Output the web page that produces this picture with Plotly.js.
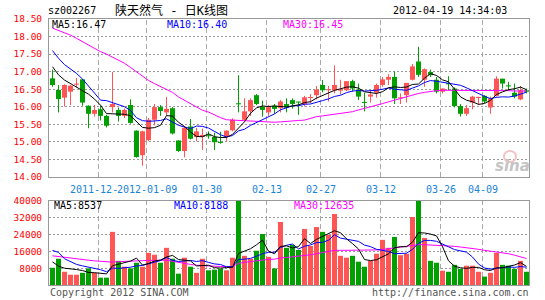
<!DOCTYPE html>
<html><head><meta charset="utf-8">
<script src="https://cdn.plot.ly/plotly-3.0.1.min.js"></script>
<style>html,body{margin:0;padding:0;background:#fff;}#chart{width:545px;height:300px;}</style>
</head><body><div id="chart"></div>
<script>
// ---- data ----
const openP  = [16.81,16.48,16.26,16.43,16.63,16.78,16.03,15.80,15.93,15.74,15.99,15.91,15.74,16.05,15.32,14.62,15.05,15.63,15.99,15.84,
                15.96,15.04,14.74,15.44,15.14,15.14,15.17,15.14,15.00,15.14,15.33,16.09,15.63,15.87,16.33,16.00,15.84,16.03,15.96,16.08,
                16.19,16.13,16.08,16.25,16.33,16.62,16.47,16.47,16.46,16.47,16.73,16.49,16.12,16.29,16.40,16.62,16.77,16.85,16.24,16.33,
                16.77,17.29,16.77,16.99,16.77,16.43,16.65,16.52,16.02,15.80,16.12,16.25,16.31,15.98,16.31,16.80,16.59,16.40,16.21,16.47];
const highP  = [17.06,16.62,16.64,16.62,16.82,16.80,16.04,16.05,16.03,15.77,16.99,15.98,15.95,16.21,15.33,15.32,15.68,16.08,16.05,16.28,
                15.99,15.05,15.44,15.65,15.40,15.38,15.30,15.26,15.29,15.33,15.67,16.90,16.24,16.24,16.36,16.17,16.05,16.08,16.19,16.24,
                16.24,16.14,16.31,16.36,16.59,16.76,16.59,17.18,16.77,16.73,16.77,16.66,16.40,16.47,16.66,16.85,16.93,17.01,16.38,16.68,
                17.22,17.71,17.09,17.06,16.85,16.52,16.87,16.55,16.08,16.05,16.31,16.29,16.33,16.29,16.87,16.80,16.71,16.66,16.59,16.52];
const lowP   = [16.57,15.84,16.01,16.05,16.55,16.03,15.39,15.72,15.61,15.41,15.84,15.58,15.68,15.52,14.55,14.32,15.02,15.47,15.74,15.74,
                15.21,14.71,14.56,15.07,15.02,14.77,15.09,14.77,14.95,15.02,15.30,15.84,15.61,15.74,16.05,15.72,15.74,15.80,15.84,15.84,
                15.95,15.77,16.01,16.10,16.21,16.41,16.15,16.38,16.35,16.45,16.43,16.19,15.87,16.12,16.26,16.57,16.62,16.08,16.08,16.12,
                16.75,16.85,16.57,16.85,16.38,16.38,16.47,15.98,15.72,15.74,15.93,16.05,16.10,15.80,16.29,16.52,16.46,16.24,16.19,16.38];
const closeP = [16.62,16.22,16.62,16.60,16.66,16.12,15.80,15.91,15.74,15.46,16.08,15.74,15.91,15.54,14.57,15.30,15.63,15.99,15.88,15.94,
                15.24,14.74,15.40,15.09,15.30,15.20,15.16,14.99,14.97,15.32,15.63,16.07,15.87,16.19,16.08,15.91,15.99,15.94,16.15,15.98,
                16.08,16.12,16.27,16.27,16.49,16.47,16.49,16.62,16.49,16.73,16.52,16.29,16.11,16.35,16.62,16.78,16.85,16.24,16.26,16.68,
                17.15,16.91,17.07,16.90,16.43,16.52,16.64,16.02,15.80,15.96,16.29,16.27,16.15,16.24,16.80,16.66,16.58,16.29,16.47,16.43];
const volume = [8200,12500,6300,4900,4900,5800,7900,5800,3500,3500,25300,11500,8700,7900,10600,8700,15300,14400,10600,17700,
                12500,5400,13000,8700,5800,12500,7000,7300,7700,7000,13000,40000,13900,12500,16300,24300,13400,7900,30000,17700,
                19100,16700,26700,18600,27600,25300,23900,33800,13900,13000,13900,11100,8700,11500,14900,21500,17700,22900,14200,14900,
                32400,40000,22400,11500,10600,6800,6300,9600,7700,9200,9200,6300,4000,5800,15300,9600,9200,7700,11500,6300];
// moving averages whose first points depend on days before the window
const ma5Lead  = [17.14,16.91,16.76,16.66];
const ma10Lead = [17.60,17.38,17.20,17.08,16.95,16.79,16.58,16.38,16.19];
const ma30 = [18.24,18.18,18.10,18.04,17.95,17.85,17.75,17.65,17.57,17.50,17.42,17.34,17.24,17.12,17.00,16.87,16.75,16.66,16.58,16.50,
              16.41,16.28,16.18,16.08,15.98,15.90,15.85,15.76,15.69,15.63,15.62,15.62,15.61,15.60,15.58,15.56,15.56,15.56,15.57,15.59,
              15.61,15.61,15.62,15.68,15.72,15.74,15.76,15.79,15.80,15.82,15.86,15.91,15.95,15.99,16.04,16.09,16.14,16.19,16.24,16.29,
              16.33,16.38,16.41,16.44,16.46,16.47,16.47,16.47,16.47,16.48,16.48,16.47,16.47,16.47,16.46,16.46,16.46,16.45,16.45,16.45];
const vma5Lead  = [11000,9000,8000,7500];
const vma10Lead = [16500,15500,12500,11000,9800,9100,8500,7800,7300];
const vma30 = [13900,13500,13200,12900,12600,12200,11800,11500,11200,11000,10900,11100,11300,11400,11500,11600,11700,11800,11900,11800,
               11300,10700,10200,9800,9400,9200,9000,8900,8800,8700,8800,10300,10800,11200,11500,12000,12200,12300,12900,13100,
               13400,13600,14100,14400,14900,15500,16000,16500,16500,16500,16600,16600,16600,16600,16700,16900,17300,17700,18000,18300,
               18700,19200,19200,19100,19000,18900,18700,18400,18100,17800,17400,17000,16500,16100,15800,15400,14900,14200,13400,12600];
const tickIdx  = [8,16,26,36,45,55,65,72];
const tickText = ['2011-12-26','2012-01-09','01-30','02-13','02-27','03-12','03-26','04-09'];
const priceTicks = [14,14.5,15,15.5,16,16.5,17,17.5,18,18.5];
const volTicks = [8000,16000,24000,32000,40000];
const titleCode = 'sz002267';
const titleName = '陕天然气 - 日K线图';
const stamp = '2012-04-19 14:34:03';
const maPriceText = ['MA5:16.47','MA10:16.40','MA30:16.45'];
const maVolText = ['MA5:8537','MA10:8188','MA30:12635'];

// ---- derived ----
function movingAvg(arr, n, lead){
  return arr.map((v,i)=>{
    if(i < n-1) return lead[i];
    let s=0; for(let k=i-n+1;k<=i;k++) s+=arr[k]; return s/n;
  });
}
const idx = closeP.map((_,i)=>i);
const up = idx.filter(i=>closeP[i]>=openP[i]);
const dn = idx.filter(i=>closeP[i]<openP[i]);
const RED='#ff5555', GREEN='#00a000';
const ma5 = movingAvg(closeP,5,ma5Lead), ma10 = movingAvg(closeP,10,ma10Lead);
const vma5 = movingAvg(volume,5,vma5Lead), vma10 = movingAvg(volume,10,vma10Lead);

function wick(list,color){
  const x=[],y=[];
  list.forEach(i=>{x.push(i,i,null);y.push(lowP[i],highP[i],null);});
  return {type:'scatter',mode:'lines',x,y,xaxis:'x',yaxis:'y',line:{color,width:1},hoverinfo:'skip'};
}
function body(list,color){
  return {type:'bar',x:list,base:list.map(i=>Math.min(openP[i],closeP[i])),
    y:list.map(i=>Math.max(Math.abs(closeP[i]-openP[i]),0.03)),width:0.84,
    xaxis:'x',yaxis:'y',marker:{color,line:{width:0}},hoverinfo:'skip'};
}
function vbar(list,color){
  return {type:'bar',x:list,y:list.map(i=>volume[i]),width:0.84,xaxis:'x2',yaxis:'y2',
    marker:{color,line:{width:0}},hoverinfo:'skip'};
}
function line(y,color,xa,ya){
  return {type:'scatter',mode:'lines',x:idx,y,xaxis:xa,yaxis:ya,line:{color,width:1},hoverinfo:'skip'};
}
const traces=[body(up,RED),body(dn,GREEN),wick(up,RED),wick(dn,GREEN),
  line(ma30,'#ff00ff','x','y'),line(ma10,'#0000ff','x','y'),line(ma5,'#000000','x','y'),
  vbar(up,RED),vbar(dn,GREEN),
  line(vma30,'#ff00ff','x2','y2'),line(vma10,'#0000ff','x2','y2'),line(vma5,'#000000','x2','y2')];

// ---- layout ----
const L=49,R=16,T=19,B=15,W=545,H=300, PW=W-L-R, PH=H-T-B;
const px=x=>(x-L)/PW, py=y=>(H-B-y)/PH;
const MONO='DejaVu Sans Mono, monospace';
function ann(text,x,y,anchor,color,size,family,extra){
  return Object.assign({text,x:px(x),y:py(y),xref:'paper',yref:'paper',xanchor:anchor,yanchor:'middle',
    showarrow:false,font:{family:family||MONO,size:size||10,color:color||'#000'},borderpad:0},extra||{});
}
const annotations=[
  ann(titleCode,47,10,'left','#000',10),
  ann(titleName,114,10,'left','#000',12,'DejaVu Sans Mono, Noto Sans CJK SC'),
  ann(stamp,508,10,'right','#000',10),
  ann(maPriceText[0],51,24,'left','#000',10),
  ann(maPriceText[1],166,24,'left','#0000ff',10),
  ann(maPriceText[2],282,24,'left','#ff00ff',10),
  ann(maVolText[0],53,206,'left','#000',10),
  ann(maVolText[1],173,206,'left','#0000ff',10),
  ann(maVolText[2],293,206,'left','#ff00ff',10),
  ann('Copyright 2012 SINA.COM',49,292,'left','#555',10),
  ann('http://finance.sina.com.cn',530,292,'right','#555',10),
  ann('sina',512,166,'center','#c4c4c4',15,'DejaVu Sans',{font:{family:'DejaVu Sans',size:15,color:'#c4c4c4',weight:'bold',style:'italic'}})
];
// date labels: centred under their grid line; a label that runs into the next one is cut short (as on the original)
const CH=6; // mono char width at 10px
const xPix=t=>L+(t-1/3+3.5/6)*6;
tickIdx.forEach((t,k)=>{
  let txt=tickText[k];
  const c=xPix(t), left=c-txt.length*CH/2;
  let anchor='center', xv=t-1/3;
  if(k+1<tickIdx.length){
    const nl=xPix(tickIdx[k+1])-tickText[k+1].length*CH/2;
    if(left+txt.length*CH>nl){
      txt=txt.slice(0,Math.floor((nl-left)/CH));
      anchor='left'; xv=(left-L)/6-3.5/6;
    }
  }
  annotations.push({text:txt,x:xv,xref:'x',y:py(189.5),yref:'paper',xanchor:anchor,yanchor:'middle',
    showarrow:false,borderpad:0,font:{family:MONO,size:10,color:'#1a84d8'}});
});
const shapes=[];
tickIdx.forEach(t=>{
  shapes.push({type:'line',xref:'x',yref:'y domain',x0:t-1/3,x1:t-1/3,y0:0,y1:1,layer:'below',line:{color:'#aaaaaa',width:1,dash:'5px,3px'}});
  shapes.push({type:'line',xref:'x2',yref:'y2 domain',x0:t-1/3,x1:t-1/3,y0:0,y1:1,layer:'below',line:{color:'#aaaaaa',width:1,dash:'5px,3px'}});
});
// small eye mark of the watermark
shapes.push({type:'circle',xref:'paper',yref:'paper',x0:px(504),x1:px(516),y0:py(162),y1:py(151),layer:'above',
  line:{color:'#f2c4c4',width:2},fillcolor:'rgba(0,0,0,0)'});
const xr=[-3.5/6, -3.5/6+PW/6];
const axX={range:xr,showline:true,mirror:true,linecolor:'#999',linewidth:1,showticklabels:false,ticks:'',showgrid:false,zeroline:false,fixedrange:true};
const axY={showline:true,mirror:true,linecolor:'#999',linewidth:1,ticks:'',zeroline:false,showgrid:true,gridcolor:'#9a9a9a',griddash:'2px,2px',gridwidth:1,
  tickfont:{family:MONO,size:9.5,color:'#ff0000'},ticklabelstandoff:4,fixedrange:true};
const layout={
  width:W,height:H,autosize:false,margin:{l:L,r:R,t:T,b:B,pad:0},
  paper_bgcolor:'#fff',plot_bgcolor:'#fff',showlegend:false,barmode:'overlay',hovermode:false,
  xaxis:Object.assign({},axX,{domain:[0,1],anchor:'y'}),
  xaxis2:Object.assign({},axX,{domain:[0,1],anchor:'y2',matches:'x'}),
  yaxis:Object.assign({},axY,{domain:[(H-B-177)/PH,1],range:[14,18.5],tickvals:priceTicks,tickformat:'.2f',anchor:'x'}),
  yaxis2:Object.assign({},axY,{domain:[0,(H-B-201)/PH],range:[0,40000],tickvals:volTicks,tickformat:'d',anchor:'x2'}),
  annotations,shapes
};
Plotly.newPlot('chart',traces,layout,{staticPlot:true,displayModeBar:false});
</script></body></html>
